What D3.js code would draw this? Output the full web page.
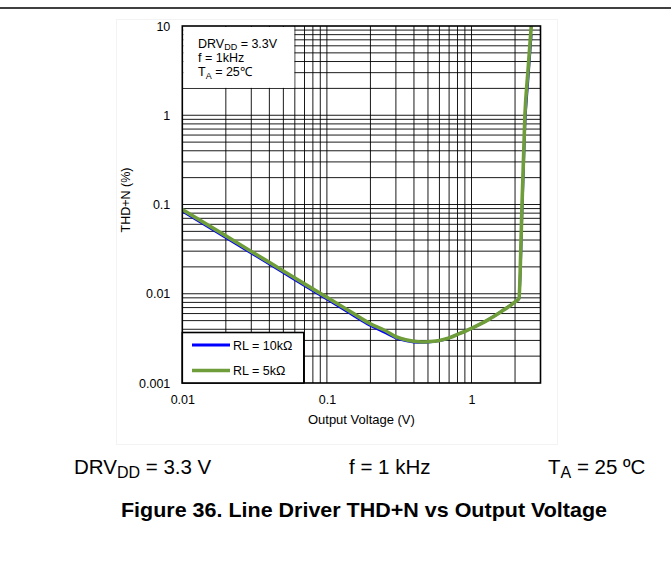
<!DOCTYPE html>
<html>
<head>
<meta charset="utf-8">
<script src="https://cdn.jsdelivr.net/npm/d3@7"></script>
<style>
  html, body { margin: 0; padding: 0; background: #fff; }
  svg { display: block; font-family: Arial, "Liberation Sans", Helvetica, sans-serif; }
</style>
</head>
<body>
<svg id="chart" width="671" height="567"></svg>
<script>
// ---- data ----
const voltage = [0.01, 0.02, 0.03, 0.05, 0.07, 0.1, 0.15, 0.2, 0.25, 0.3, 0.35, 0.4, 0.45, 0.5, 0.6, 0.7, 0.8, 1.0, 1.3, 1.6, 2.0, 2.13, 2.19, 2.23, 2.34, 2.46, 2.59];
const thdRL10k = [0.084, 0.0425, 0.0285, 0.0172, 0.0123, 0.0087, 0.0058, 0.0044, 0.0037, 0.0032, 0.00297, 0.00287, 0.00284, 0.00286, 0.00297, 0.0032, 0.0035, 0.0041, 0.0051, 0.0063, 0.0081, 0.0088, 0.024, 0.07, 0.75, 2.5, 8];
const thdRL5k  = [0.088, 0.0445, 0.0298, 0.018, 0.0129, 0.0091, 0.0061, 0.0046, 0.0039, 0.0033, 0.00305, 0.00293, 0.00288, 0.0029, 0.003, 0.0032, 0.0035, 0.0041, 0.0051, 0.0063, 0.0081, 0.0089, 0.03, 0.09, 1.0, 3.2, 10];
const seriesNames = ["RL = 10kΩ", "RL = 5kΩ"];
const seriesColors = ["#0000ff", "#6e9d3a"];
const xTickValues = [0.01, 0.1, 1];
const xTickLabels = ["0.01", "0.1", "1"];
const yTickValues = [0.001, 0.01, 0.1, 1, 10];
const yTickLabels = ["0.001", "0.01", "0.1", "1", "10"];
const xDomain = [0.01, 3];
const yDomain = [0.001, 10];

// ---- layout ----
const svg = d3.select("#chart");
const L = 182.3, R = 540.5, T = 26, B = 383;
const x = d3.scaleLog().domain(xDomain).range([L, R]);
const y = d3.scaleLog().domain(yDomain).range([B, T]);
const FS = 12.5;

// top rule
svg.append("line").attr("x1", 0).attr("x2", 671).attr("y1", 8).attr("y2", 8)
  .attr("stroke", "#000").attr("stroke-width", 1.5);
// faint frame of embedded figure
svg.append("rect").attr("x", 116.5).attr("y", 19.5).attr("width", 441).attr("height", 425)
  .attr("fill", "none").attr("stroke", "#f3f3f3").attr("stroke-width", 1);

// grid lines
const xGrid = [];
for (let e = -2; e <= 0; e++) for (let k = 1; k <= 9; k++) {
  const v = k * Math.pow(10, e);
  if (v > xDomain[0] * 1.0001 && v < xDomain[1] * 0.999) xGrid.push(v);
}
const yGrid = [];
for (let e = -3; e <= 0; e++) for (let k = 1; k <= 9; k++) {
  const v = k * Math.pow(10, e);
  if (v > yDomain[0] * 1.0001 && v < yDomain[1] * 0.999) yGrid.push(v);
}
const grid = svg.append("g");
grid.selectAll("line.vx").data(xGrid).join("line")
  .attr("x1", d => x(d)).attr("x2", d => x(d)).attr("y1", T).attr("y2", B)
  .attr("stroke", "#000").attr("stroke-width", 0.9);
grid.selectAll("line.hy").data(yGrid).join("line")
  .attr("y1", d => y(d)).attr("y2", d => y(d)).attr("x1", L).attr("x2", R)
  .attr("stroke", "#000").attr("stroke-width", 0.9);

// annotation box (white, covering grid) spanning 0.01..0.06 V and 2..10 %
svg.append("rect").attr("x", x(0.01) + 1).attr("y", y(10) + 1)
  .attr("width", x(0.06) - x(0.01) - 1.5).attr("height", y(2) - y(10) - 1.5)
  .attr("fill", "#fff");
const ann = svg.append("g").attr("font-size", FS).attr("fill", "#000");
const a1 = ann.append("text").attr("x", 198).attr("y", 47.5);
a1.append("tspan").text("DRV");
a1.append("tspan").attr("font-size", 9).attr("dy", 2.5).text("DD");
a1.append("tspan").attr("dy", -2.5).text(" = 3.3V");
ann.append("text").attr("x", 198).attr("y", 62).text("f = 1kHz");
const a3 = ann.append("text").attr("x", 198).attr("y", 76);
a3.append("tspan").text("T");
a3.append("tspan").attr("font-size", 9).attr("dy", 2.5).text("A");
a3.append("tspan").attr("dy", -2.5).text(" = 25℃");

// curves
svg.append("clipPath").attr("id", "clip").append("rect")
  .attr("x", L).attr("y", T).attr("width", R - L).attr("height", B - T);
const line = d3.line().x(d => x(d[0])).y(d => y(d[1])).curve(d3.curveMonotoneX);
const s10 = voltage.map((v, i) => [v, thdRL10k[i]]);
const s5 = voltage.map((v, i) => [v, thdRL5k[i]]);
const curves = svg.append("g").attr("clip-path", "url(#clip)");
curves.append("path").attr("d", line(s10)).attr("fill", "none")
  .attr("stroke", seriesColors[0]).attr("stroke-width", 2.6).attr("stroke-linejoin", "round");
curves.append("path").attr("d", line(s5)).attr("fill", "none")
  .attr("stroke", seriesColors[1]).attr("stroke-width", 3.6).attr("stroke-linejoin", "round");

// frame
svg.append("rect").attr("x", L).attr("y", T).attr("width", R - L).attr("height", B - T)
  .attr("fill", "none").attr("stroke", "#000").attr("stroke-width", 1.6);

// legend
const lg = svg.append("g");
lg.append("rect").attr("x", L).attr("y", 332.5).attr("width", 121.5).attr("height", B - 332.5)
  .attr("fill", "#fff").attr("stroke", "#000").attr("stroke-width", 1.6);
const legRows = [345, 370.5];
seriesNames.forEach((name, i) => {
  lg.append("line").attr("x1", 192).attr("x2", 230).attr("y1", legRows[i]).attr("y2", legRows[i])
    .attr("stroke", seriesColors[i]).attr("stroke-width", i === 0 ? 2.8 : 3.6);
  lg.append("text").attr("x", 233).attr("y", legRows[i] + 4.6).attr("font-size", FS)
    .text(name);
});

// axes
const xAxis = d3.axisBottom(x).tickValues(xTickValues).tickFormat((d, i) => xTickLabels[i]).tickSize(0).tickPadding(12);
const gx = svg.append("g").attr("transform", `translate(0,${B})`).call(xAxis);
gx.select(".domain").remove();
gx.selectAll("text").attr("font-size", FS).attr("font-family", "Arial, 'Liberation Sans', sans-serif").attr("fill", "#000");

const yAxis = d3.axisLeft(y).tickValues(yTickValues).tickFormat((d, i) => yTickLabels[i]).tickSize(0).tickPadding(12);
const gy = svg.append("g").attr("transform", `translate(${L},0)`).call(yAxis);
gy.select(".domain").remove();
gy.selectAll("text").attr("font-size", FS).attr("font-family", "Arial, 'Liberation Sans', sans-serif").attr("fill", "#000");

svg.append("text").attr("x", (L + R) / 2).attr("y", 424).attr("text-anchor", "middle")
  .attr("font-size", 13).text("Output Voltage (V)");
svg.append("text").attr("transform", "translate(129.5,200) rotate(-90)").attr("text-anchor", "middle")
  .attr("font-size", 12.5).text("THD+N (%)");

// conditions line below the figure
const cond = svg.append("g").attr("font-size", 20.5).attr("fill", "#000");
const c1 = cond.append("text").attr("x", 74).attr("y", 474);
c1.append("tspan").text("DRV");
c1.append("tspan").attr("font-size", 16).attr("dy", 4).text("DD");
c1.append("tspan").attr("dy", -4).text(" = 3.3 V");
cond.append("text").attr("x", 349).attr("y", 474).text("f = 1 kHz");
const c3 = cond.append("text").attr("x", 548).attr("y", 474);
c3.append("tspan").text("T");
c3.append("tspan").attr("font-size", 16).attr("dy", 4).text("A");
c3.append("tspan").attr("dy", -4).text(" = 25 ºC");

svg.append("text").attr("x", 121).attr("y", 517).attr("font-size", 21).attr("font-weight", "bold")
  .attr("textLength", 486).attr("lengthAdjust", "spacingAndGlyphs")
  .text("Figure 36. Line Driver THD+N vs Output Voltage");
</script>
</body>
</html>
